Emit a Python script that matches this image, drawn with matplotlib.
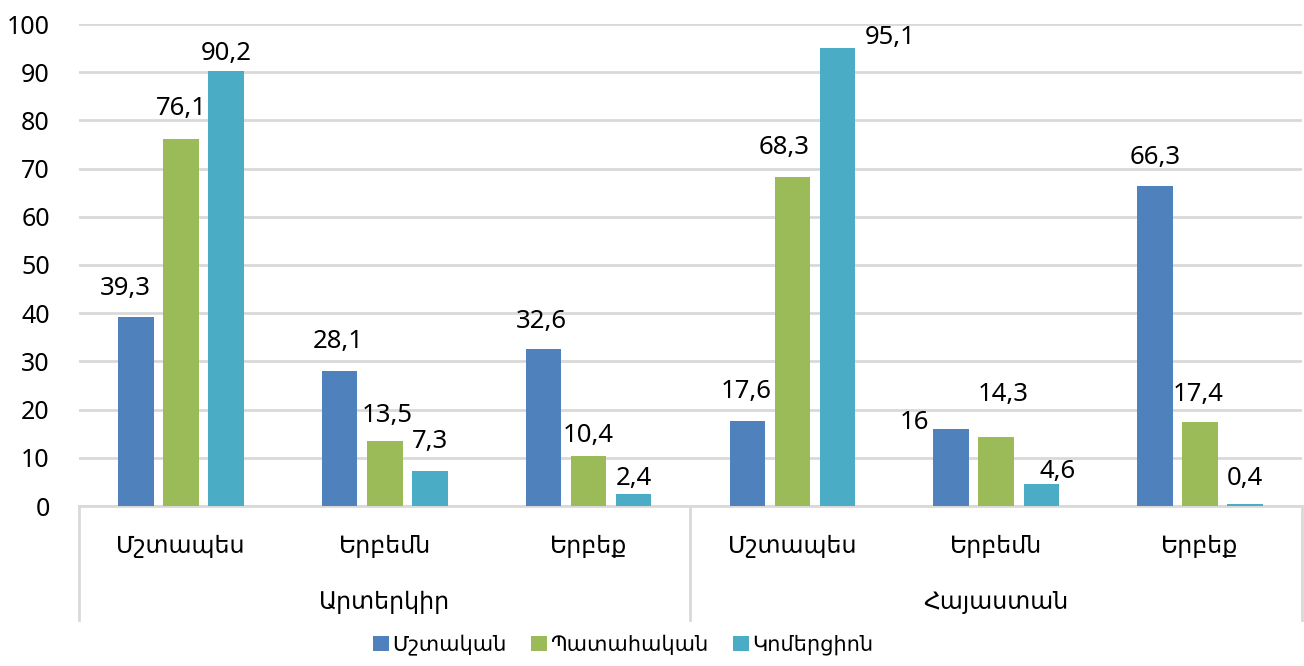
import matplotlib
matplotlib.use('Agg')
import matplotlib.pyplot as plt
import matplotlib.transforms as mtransforms
from matplotlib.patches import Patch
import numpy as np

plt.rcParams['font.family'] = ['Noto Sans', 'DejaVu Sans']

# data
groups = ['Արտերկիր', 'Հայաստան']
categories = ['Մշտապես', 'Երբեմն', 'Երբեք', 'Մշտապես', 'Երբեմն', 'Երբեք']
series_names = ['Մշտական', 'Պատահական', 'Կոմերցիոն']
mshtakan = [39.3, 28.1, 32.6, 17.6, 16, 66.3]
patahakan = [76.1, 13.5, 10.4, 68.3, 14.3, 17.4]
komercion = [90.2, 7.3, 2.4, 95.1, 4.6, 0.4]

colors = ['#4F81BD', '#9BBB59', '#4BACC6']
grid_color = '#D9D9D9'

# label offsets (pixels) from top-centre of each bar, as Excel placed them
label_offsets = [
    [(-11, 28), (-1, 29), (-2, 27), (-1, 30), (-37, 6), (0, 29)],
    [(0, 31), (2, 25), (0, 20), (-8, 29), (7, 43), (-2, 28)],
    [(0, 18), (0, 29), (0, 16), (53, 10), (16, 12), (0, 26)],
]

fig = plt.figure(figsize=(13.04, 6.66), dpi=100)
ax = fig.add_axes([79 / 1304, 1 - 506 / 666, (1302 - 79) / 1304, (506 - 24) / 666])

x = np.arange(len(categories))
step = 45 / 203.8
width = 35.5 / 203.8
all_series = [mshtakan, patahakan, komercion]

for i, vals in enumerate(all_series):
    pos = x + (i - 1) * step
    ax.bar(pos, vals, width, color=colors[i], zorder=3, label=series_names[i])
    for j, v in enumerate(vals):
        txt = ('%g' % v).replace('.', ',')
        dx, dy = label_offsets[i][j]
        ax.annotate(txt, (pos[j], v), xytext=(dx, dy), textcoords='offset pixels',
                    ha='center', va='center', fontsize=18.5, color='black', zorder=4)

ax.set_xlim(-0.5, len(categories) - 0.5)
ax.set_ylim(0, 100)
ax.set_yticks(range(0, 101, 10))
ax.yaxis.grid(True, color=grid_color, linewidth=2, zorder=0)
ax.set_axisbelow(True)
for s in ['top', 'right', 'left']:
    ax.spines[s].set_visible(False)
ax.spines['bottom'].set_color(grid_color)
ax.spines['bottom'].set_linewidth(2)
ax.tick_params(axis='y', length=0, pad=21, labelsize=18)
ax.tick_params(axis='x', length=0)
ax.set_xticks([])

# category and group labels below the axis
trans = mtransforms.blended_transform_factory(ax.transData, ax.transAxes)
for j, c in enumerate(categories):
    ax.text(j, -40 / 482, c, transform=trans, ha='center', va='center',
            fontsize=17, family=['DejaVu Sans'])
for g, name in enumerate(groups):
    ax.text(g * 3 + 1, -96 / 482, name, transform=trans, ha='center', va='center',
            fontsize=17, family=['DejaVu Sans'])
for xs in [-0.5, 2.5, 5.5]:
    ax.plot([xs, xs], [0, -114 / 482], transform=trans, color=grid_color,
            linewidth=2, clip_on=False)

handles = [Patch(facecolor=c) for c in colors]
fig.legend(handles, series_names, loc='center', bbox_to_anchor=(0.478, 1 - 645 / 666),
           ncol=3, frameon=False, handlelength=0.75, handleheight=0.75,
           handletextpad=0.15, columnspacing=1.2, prop={'family': ['DejaVu Sans'], 'size': 15})

fig.savefig('out.png', dpi=100)
